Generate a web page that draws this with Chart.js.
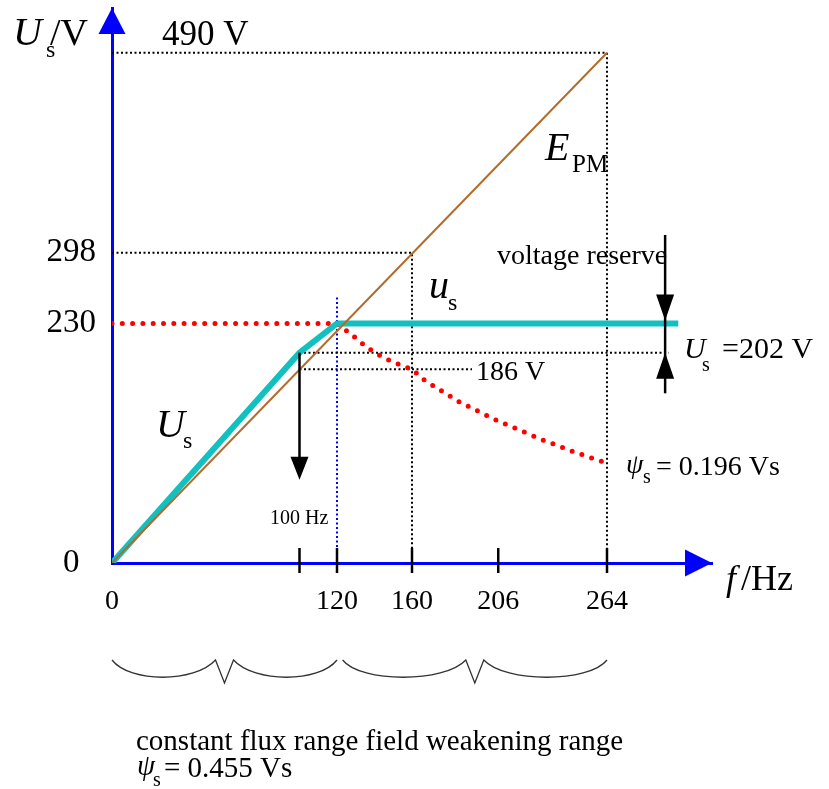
<!DOCTYPE html>
<html>
<head>
<meta charset="utf-8">
<script src="https://cdn.jsdelivr.net/npm/chart.js@4"></script>
<style>
  html, body { margin: 0; padding: 0; background: #fff; }
  #wrap { width: 829px; height: 789px; position: relative; }
</style>
</head>
<body>
<div id="wrap"><canvas id="chart"></canvas></div>
<script>
// Values: frequency in Hz, voltage in V
const xTicks = [0, 120, 160, 206, 264];
const xMarks = [100, 120, 160, 206, 264];
const yTicks = [0, 230, 298];

// back-EMF of the PM machine
const empX = [0, 264];
const empY = [0, 490];

// stator voltage U_s (202 V at 100 Hz, limited to 230 V from 120 Hz)
const usX = [0, 100, 120, 302];
const usY = [0, 202, 230, 230];

// voltage at constant flux / weakened flux
const fluxX = [0, 120, 128, 136, 145, 154, 160, 167, 176, 185, 195, 204, 209, 230, 246, 262];
const fluxY = [230, 230, 219, 207, 197, 190, 186, 175, 165, 155, 146, 138, 134, 118, 107, 97];

// dotted helper lines
const guide490X = [0, 264, 264];
const guide490Y = [490, 490, 0];
const guide298X = [0, 160, 160];
const guide298Y = [298, 298, 0];
const guide202X = [100, 297];
const guide202Y = [202, 202];
const guide186X = [100, 192];
const guide186Y = [186, 186];
const guide120X = [120, 120];
const guide120Y = [255, 0];

// arrows
const arrow100X = [100, 100];
const arrow100Y = [202, 80];
const reserveF = 295;
const reserveY = [315, 163];      // line top / bottom
const reserveTips = [230, 202];   // down tip, up tip

// braces under the frequency axis
const brace1 = [0, 120];
const brace2 = [123, 264];

const SERIF = '"Liberation Serif", "Times New Roman", serif';
const pts = (xs, ys) => xs.map((x, i) => ({ x: x, y: ys[i] }));

function dotted(xs, ys, color) {
    return {
        data: pts(xs, ys),
        borderColor: color,
        borderWidth: 2,
        borderDash: [2, 2.5],
        pointRadius: 0,
        fill: false,
        tension: 0
    };
}

function head(ctx, x, y, dx, dy, len, half) {
    ctx.beginPath();
    ctx.moveTo(x, y);
    ctx.lineTo(x - dx * len - dy * half, y - dy * len + dx * half);
    ctx.lineTo(x - dx * len + dy * half, y - dy * len - dx * half);
    ctx.closePath();
    ctx.fill();
}

function text(ctx, str, x, y, size, italic) {
    ctx.font = (italic ? 'italic ' : '') + size + 'px ' + SERIF;
    ctx.fillText(str, x, y);
}

function brace(ctx, x0, x1, yTop) {
    const c = (x0 + x1) / 2;
    const yLow = yTop + 17;
    ctx.beginPath();
    ctx.moveTo(x0, yTop);
    ctx.bezierCurveTo(x0 + 18, yLow + 6, c - 30, yLow + 6, c - 9, yTop);
    ctx.lineTo(c, yTop + 23);
    ctx.lineTo(c + 9, yTop);
    ctx.bezierCurveTo(c + 30, yLow + 6, x1 - 18, yLow + 6, x1, yTop);
    ctx.stroke();
}

const decorations = {
    id: 'decorations',
    afterDatasetsDraw(chart) {
        const ctx = chart.ctx;
        const xs = chart.scales.x, ys = chart.scales.y;
        const area = chart.chartArea;
        const px = v => xs.getPixelForValue(v);
        const py = v => ys.getPixelForValue(v);
        ctx.save();

        // axis arrowheads
        ctx.fillStyle = '#0000ff';
        head(ctx, area.left, area.top, 0, -1, 26, 13.5);
        head(ctx, area.right, area.bottom, 1, 0, 27, 13.5);

        // tick marks across the f axis
        ctx.strokeStyle = '#000';
        ctx.lineWidth = 2.5;
        xMarks.forEach(v => {
            ctx.beginPath();
            ctx.moveTo(px(v), area.bottom - 15);
            ctx.lineTo(px(v), area.bottom + 10);
            ctx.stroke();
        });

        // arrow down at 100 Hz
        ctx.fillStyle = '#000';
        const ax = px(arrow100X[0]);
        ctx.beginPath();
        ctx.moveTo(ax, py(arrow100Y[0]));
        ctx.lineTo(ax, py(arrow100Y[1]) - 20);
        ctx.stroke();
        head(ctx, px(arrow100X[1]), py(arrow100Y[1]), 0, 1, 23, 9);

        // voltage reserve arrows
        const rx = px(reserveF);
        ctx.beginPath();
        ctx.moveTo(rx, py(reserveY[0]));
        ctx.lineTo(rx, py(reserveY[1]));
        ctx.stroke();
        head(ctx, rx, py(reserveTips[0]) - 3, 0, 1, 26, 9);
        head(ctx, rx, py(reserveTips[1]), 0, -1, 26, 9);

        // braces
        ctx.strokeStyle = '#333';
        ctx.lineWidth = 1.3;
        brace(ctx, px(brace1[0]), px(brace1[1]), 660);
        brace(ctx, px(brace2[0]), px(brace2[1]), 660);

        // labels
        ctx.fillStyle = '#000';
        ctx.textBaseline = 'alphabetic';
        ctx.textAlign = 'left';
        text(ctx, 'U', 13, 45, 40, true);
        text(ctx, 's', 46, 57, 24, false);
        text(ctx, '/V', 50, 45, 38, false);
        text(ctx, '490 V', 162, 45, 35, false);

        text(ctx, 'f', 726, 590, 36, true);
        text(ctx, '/Hz', 741, 590, 36, false);

        text(ctx, 'E', 545, 160, 40, true);
        text(ctx, 'PM', 572, 172, 25, false);

        text(ctx, 'u', 429, 298, 40, true);
        text(ctx, 's', 448, 310, 24, false);

        text(ctx, 'U', 156, 437, 40, true);
        text(ctx, 's', 183, 448, 24, false);

        text(ctx, 'voltage reserve', 497, 264, 28, false);
        text(ctx, '186 V', 476, 380, 28, false);

        text(ctx, 'U', 684, 358, 30, true);
        text(ctx, 's', 702, 371, 20, false);
        text(ctx, '=202 V', 722, 358, 30, false);

        text(ctx, '\u03C8', 626, 473, 28, true);
        text(ctx, 's', 643, 483, 20, false);
        text(ctx, '= 0.196 Vs', 656, 475, 28, false);

        text(ctx, '100 Hz', 270, 524, 20, false);

        text(ctx, 'constant flux range field weakening range', 136, 750, 29, false);
        text(ctx, '\u03C8', 137, 775, 29, true);
        text(ctx, 's', 153, 786, 20, false);
        text(ctx, '= 0.455 Vs', 164, 777, 29, false);

        ctx.restore();
    }
};

const ctx = document.getElementById('chart').getContext('2d');

const chart = new Chart(ctx, {
    type: 'line',
    data: {
        datasets: [
            {
                data: pts(empX, empY),
                borderColor: '#b36b2a',
                borderWidth: 2,
                pointRadius: 0,
                fill: false,
                tension: 0
            },
            {
                data: pts(usX, usY),
                borderColor: '#12c0c0',
                borderWidth: 6,
                borderJoinStyle: 'miter',
                pointRadius: 0,
                fill: false,
                tension: 0
            },
            {
                data: pts(fluxX, fluxY),
                borderColor: '#ff0000',
                borderWidth: 5,
                borderDash: [0, 10.3],
                borderCapStyle: 'round',
                pointRadius: 0,
                fill: false,
                tension: 0
            },
            dotted(guide490X, guide490Y, '#000'),
            dotted(guide298X, guide298Y, '#000'),
            dotted(guide202X, guide202Y, '#000'),
            dotted(guide186X, guide186Y, '#000'),
            dotted(guide120X, guide120Y, '#0000ff')
        ]
    },
    options: {
        responsive: true,
        maintainAspectRatio: false,
        animation: false,
        events: [],
        layout: {
            padding: { top: 8, right: 117, bottom: 166, left: 0 }
        },
        plugins: {
            legend: { display: false },
            tooltip: { enabled: false }
        },
        scales: {
            x: {
                type: 'linear',
                min: 0,
                max: 320,
                grid: { drawOnChartArea: false, drawTicks: false },
                border: { color: '#0000ff', width: 3 },
                ticks: {
                    color: '#000',
                    font: { family: SERIF, size: 28 },
                    padding: 22,
                    autoSkip: false,
                    maxRotation: 0
                },
                afterBuildTicks: s => { s.ticks = xTicks.map(v => ({ value: v })); },
                afterFit: s => {
                    s.height = 60;
                    s.paddingLeft = 0; s.paddingRight = 0;
                }
            },
            y: {
                type: 'linear',
                min: 0,
                max: 533,
                grid: { drawOnChartArea: false, drawTicks: false },
                border: { color: '#0000ff', width: 3 },
                ticks: {
                    color: '#000',
                    font: { family: SERIF, size: 33 },
                    padding: 16,
                    crossAlign: 'center',
                    autoSkip: false
                },
                afterBuildTicks: s => { s.ticks = yTicks.map(v => ({ value: v })); },
                afterFit: s => {
                    s.width = 112;
                    s.paddingTop = 0; s.paddingBottom = 0;
                }
            }
        }
    },
    plugins: [decorations]
});
</script>
</body>
</html>
